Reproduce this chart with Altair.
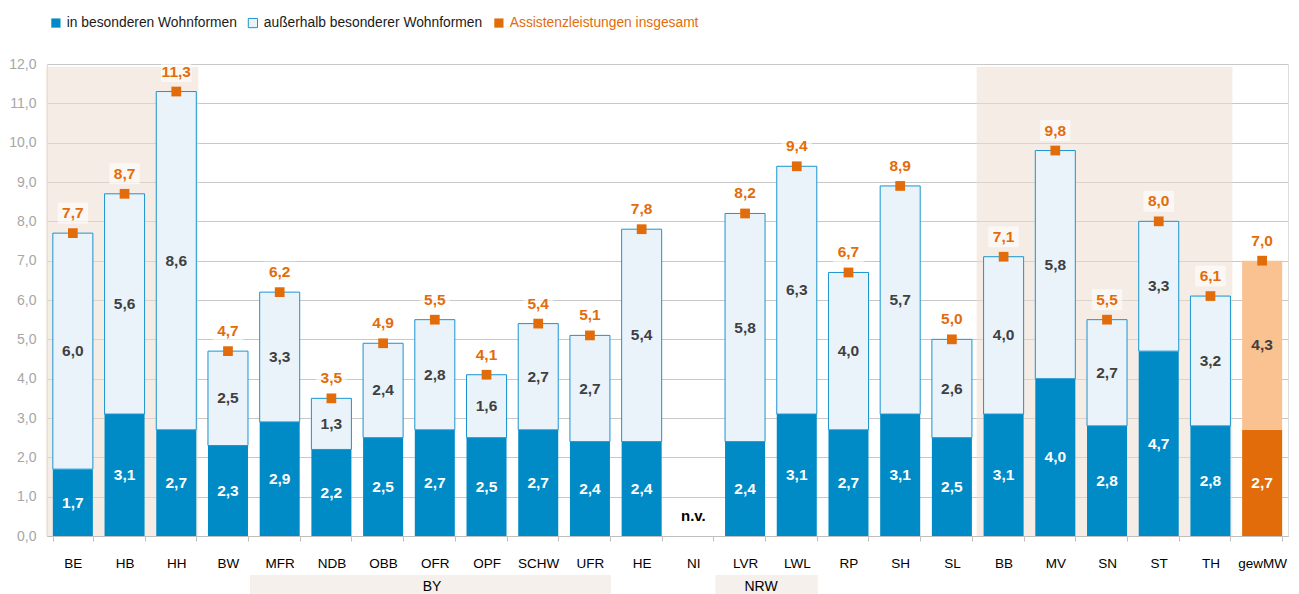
import altair as alt
import pandas as pd

# ---------------- data ----------------
cats = ["BE", "HB", "HH", "BW", "MFR", "NDB", "OBB", "OFR", "OPF", "SCHW", "UFR", "HE",
        "NI", "LVR", "LWL", "RP", "SH", "SL", "BB", "MV", "SN", "ST", "TH", "gewMW"]
bar_cats = ["BE", "HB", "HH", "BW", "MFR", "NDB", "OBB", "OFR", "OPF", "SCHW", "UFR", "HE",
            "LVR", "LWL", "RP", "SH", "SL", "BB", "MV", "SN", "ST", "TH", "gewMW"]
in_vals = [1.7, 3.1, 2.7, 2.3, 2.9, 2.2, 2.5, 2.7, 2.5, 2.7, 2.4, 2.4,
           2.4, 3.1, 2.7, 3.1, 2.5, 3.1, 4.0, 2.8, 4.7, 2.8, 2.7]
au_vals = [6.0, 5.6, 8.6, 2.5, 3.3, 1.3, 2.4, 2.8, 1.6, 2.7, 2.7, 5.4,
           5.8, 6.3, 4.0, 5.7, 2.6, 4.0, 5.8, 2.7, 3.3, 3.2, 4.3]
tot_vals = [7.7, 8.7, 11.3, 4.7, 6.2, 3.5, 4.9, 5.5, 4.1, 5.4, 5.1, 7.8,
            8.2, 9.4, 6.7, 8.9, 5.0, 7.1, 9.8, 5.5, 8.0, 6.1, 7.0]
na_cats = ["NI"]
shade_start = ["BE", "BB"]
shade_end = ["HH", "TH"]
group_before = ["BW", "NI"]      # box starts at the right end of this band
group_end = ["UFR", "LWL"]
group_names = ["BY", "NRW"]

IN = "in besonderen Wohnformen"
AU = "außerhalb besonderer Wohnformen"
TOT = "Assistenzleistungen insgesamt"
GIN = "gewMW in besonderen Wohnformen"
GAU = "gewMW außerhalb"

BLUE = "#008bc7"
LIGHT = "#eaf3fa"
STROKE = "#1a94d0"
ORANGE = "#e36c0a"
ORANGE_L = "#fac191"
FONT = "Liberation Sans, Arial, sans-serif"
W, H = 1241, 472


def de(v):
    return f"{v:.1f}".replace(".", ",")


rows = []
for c, i, a, t in zip(bar_cats, in_vals, au_vals, tot_vals):
    g = c == "gewMW"
    rows.append(dict(cat=c, y0=0.0, y1=i, mid=i / 2, lab=de(i),
                     cls=GIN if g else IN, tcol="white", scol="transparent"))
    rows.append(dict(cat=c, y0=i, y1=t, mid=(i + t) / 2, lab=de(a),
                     cls=GAU if g else AU, tcol="#404040",
                     scol="transparent" if g else STROKE))
seg = pd.DataFrame(rows)
tot = pd.DataFrame(dict(cat=bar_cats, tot=tot_vals, lab=[de(v) for v in tot_vals]))
na = pd.DataFrame(dict(cat=na_cats, v=[0.0] * len(na_cats), lab=["n.v."] * len(na_cats)))
shade = pd.DataFrame(dict(s=shade_start, e=shade_end, y0=[0.0, 0.0], y1=[11.93, 11.93]))
groups = pd.DataFrame(dict(s=group_before, e=group_end))

# ---------------- scales / axes ----------------
xscale = alt.Scale(domain=cats, paddingInner=0.226, paddingOuter=0.113)
yscale = alt.Scale(domain=[0, 12], nice=False)
xaxis = alt.Axis(title=None, labelAngle=0, labelFont=FONT, labelFontSize=13.5,
                 labelColor="black", tickBand="extent", tickColor="#bfbfbf",
                 domainColor="#bfbfbf", tickSize=5, labelPadding=15, grid=False)
yaxis = alt.Axis(title=None, values=list(range(13)),
                 labelExpr="replace(format(datum.value, '.1f'), '.', ',')",
                 grid=True, gridColor="#c8c8c8", domain=False, ticks=False,
                 labelPadding=11, labelFont=FONT, labelFontSize=14, labelColor="#a6a6a6")

color_scale = alt.Scale(domain=[IN, AU, TOT, GIN, GAU],
                        range=[BLUE, LIGHT, ORANGE, ORANGE, ORANGE_L])

legend = alt.Legend(
    values=[IN, AU, TOT], orient="none", legendX=2, legendY=-48,
    direction="horizontal", title=None, symbolType="square", symbolSize=85,
    labelFont=FONT, labelFontSize=13.8, labelLimit=0, columnPadding=9, labelOffset=4,
    padding=0,
    labelColor={"expr": f"datum.label == '{TOT}' ? '{ORANGE}' : '#1a1a1a'"},
    symbolStrokeColor={"expr": f"datum.label == '{AU}' ? '{STROKE}' : 'transparent'"},
    symbolStrokeWidth=1,
)

# ---------------- layers ----------------
shade_l = alt.Chart(shade).mark_rect(fill="#ecdcd0", opacity=0.55, xOffset=-7,
                                     x2Offset=2).encode(
    x=alt.X("s:N", scale=xscale, axis=xaxis, bandPosition=0),
    x2=alt.X2("e:N", bandPosition=1),
    y=alt.Y("y0:Q", scale=yscale, axis=yaxis),
    y2="y1:Q",
)

group_l = alt.Chart(groups).mark_rect(fill="#f5f0ec", y=H + 39, y2=H + 70,
                                      xOffset=2, x2Offset=1).encode(
    x=alt.X("s:N", scale=xscale, axis=xaxis, bandPosition=1),
    x2=alt.X2("e:N", bandPosition=1),
)

bars = alt.Chart(seg).mark_bar(strokeWidth=1).encode(
    x=alt.X("cat:N", scale=xscale, axis=xaxis),
    y=alt.Y("y0:Q", scale=yscale, axis=yaxis),
    y2="y1:Q",
    fill=alt.Fill("cls:N", scale=color_scale, legend=legend),
    stroke=alt.Stroke("scol:N", scale=None),
)

seg_text = alt.Chart(seg).mark_text(font=FONT, fontSize=15.5, fontWeight="bold",
                                    baseline="middle").encode(
    x=alt.X("cat:N", scale=xscale, axis=xaxis),
    y=alt.Y("mid:Q", scale=yscale, axis=yaxis),
    text="lab:N",
    color=alt.Color("tcol:N", scale=None),
)

markers = alt.Chart(tot).mark_square(size=95, color=ORANGE, opacity=1).encode(
    x=alt.X("cat:N", scale=xscale, axis=xaxis),
    y=alt.Y("tot:Q", scale=yscale, axis=yaxis),
)

tot_bg = alt.Chart(tot).mark_point(
    shape="M-1.45,-1L1.45,-1L1.45,1L-1.45,1Z", size=440, filled=True,
    fill="white", opacity=0.6, strokeWidth=0, yOffset=-20,
).encode(
    x=alt.X("cat:N", scale=xscale, axis=xaxis),
    y=alt.Y("tot:Q", scale=yscale, axis=yaxis),
)

tot_text = alt.Chart(tot).mark_text(font=FONT, fontSize=15.5, fontWeight="bold",
                                    color=ORANGE, baseline="middle", dy=-20).encode(
    x=alt.X("cat:N", scale=xscale, axis=xaxis),
    y=alt.Y("tot:Q", scale=yscale, axis=yaxis),
    text="lab:N",
)

na_text = alt.Chart(na).mark_text(font=FONT, fontSize=15, fontWeight="bold",
                                  color="black", baseline="middle", dy=-20).encode(
    x=alt.X("cat:N", scale=xscale, axis=xaxis),
    y=alt.Y("v:Q", scale=yscale, axis=yaxis),
    text="lab:N",
)

by_text = alt.Chart(pd.DataFrame(dict(cat=["OFR"], lab=[group_names[0]]))).mark_text(
    font=FONT, fontSize=14, color="black", baseline="middle", y=H + 51).encode(
    x=alt.X("cat:N", scale=xscale, axis=xaxis, bandPosition=0.43),
    text="lab:N",
)

nrw_text = alt.Chart(pd.DataFrame(dict(cat=["LVR"], lab=[group_names[1]]))).mark_text(
    font=FONT, fontSize=14, color="black", baseline="middle", y=H + 51).encode(
    x=alt.X("cat:N", scale=xscale, axis=xaxis, bandPosition=0.9),
    text="lab:N",
)

chart = alt.layer(
    shade_l, group_l, bars, seg_text, markers, tot_bg, tot_text, na_text, by_text, nrw_text
).properties(
    width=W, height=H, autosize="none",
    padding={"left": 39, "top": 56, "right": 3, "bottom": 58},
).configure_view(strokeWidth=0).configure(font=FONT)

chart.save("out.html", embed_options={"renderer": "svg", "actions": False})
